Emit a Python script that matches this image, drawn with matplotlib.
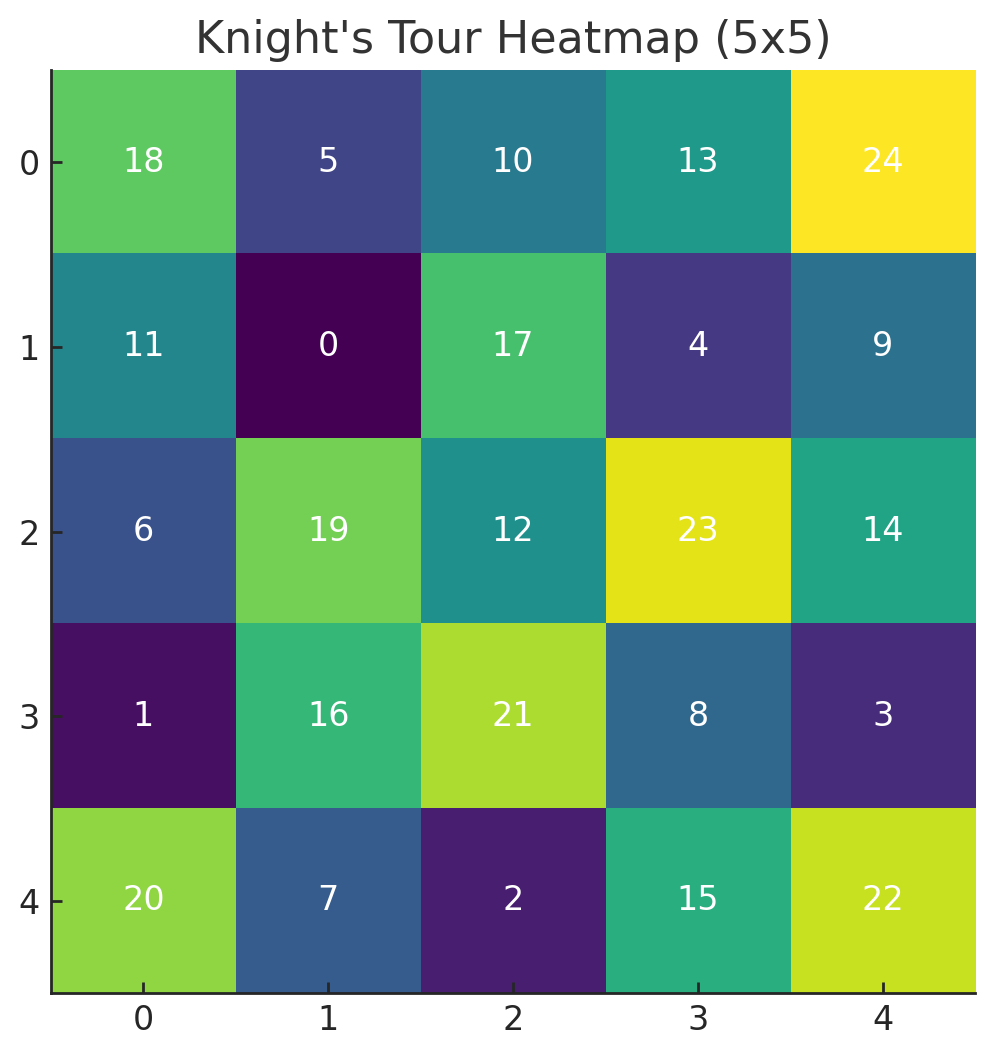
import numpy as np
import matplotlib.pyplot as plt

# visit order of the knight on a 5x5 board
board = [
    [18, 5, 10, 13, 24],
    [11, 0, 17, 4, 9],
    [6, 19, 12, 23, 14],
    [1, 16, 21, 8, 3],
    [20, 7, 2, 15, 22],
]
tick_labels = ["0", "1", "2", "3", "4"]
title = "Knight's Tour Heatmap (5x5)"

data = np.array(board)

fig = plt.figure(figsize=(4.975, 5.285), dpi=200)
ax = fig.add_axes([0.0513, 0.0605, 0.9287, 0.8733])
ax.imshow(data, cmap="viridis", aspect="auto")

for i in range(data.shape[0]):
    for j in range(data.shape[1]):
        ax.text(j, i, str(data[i, j]), ha="center", va="center",
                color="white", fontsize=12)

ax.set_xticks(range(5))
ax.set_yticks(range(5))
ax.set_xticklabels(tick_labels, fontsize=12, color="#262626")
ax.set_yticklabels(tick_labels, fontsize=12, color="#262626")
ax.tick_params(direction="in", length=4, width=1, color="#262626", pad=4)
ax.spines["top"].set_visible(False)
ax.spines["right"].set_visible(False)
for s in ("left", "bottom"):
    ax.spines[s].set_color("#262626")
    ax.spines[s].set_linewidth(1)
ax.set_title(title, fontsize=16, color="#333333")

fig.savefig("out.png", dpi=200)
